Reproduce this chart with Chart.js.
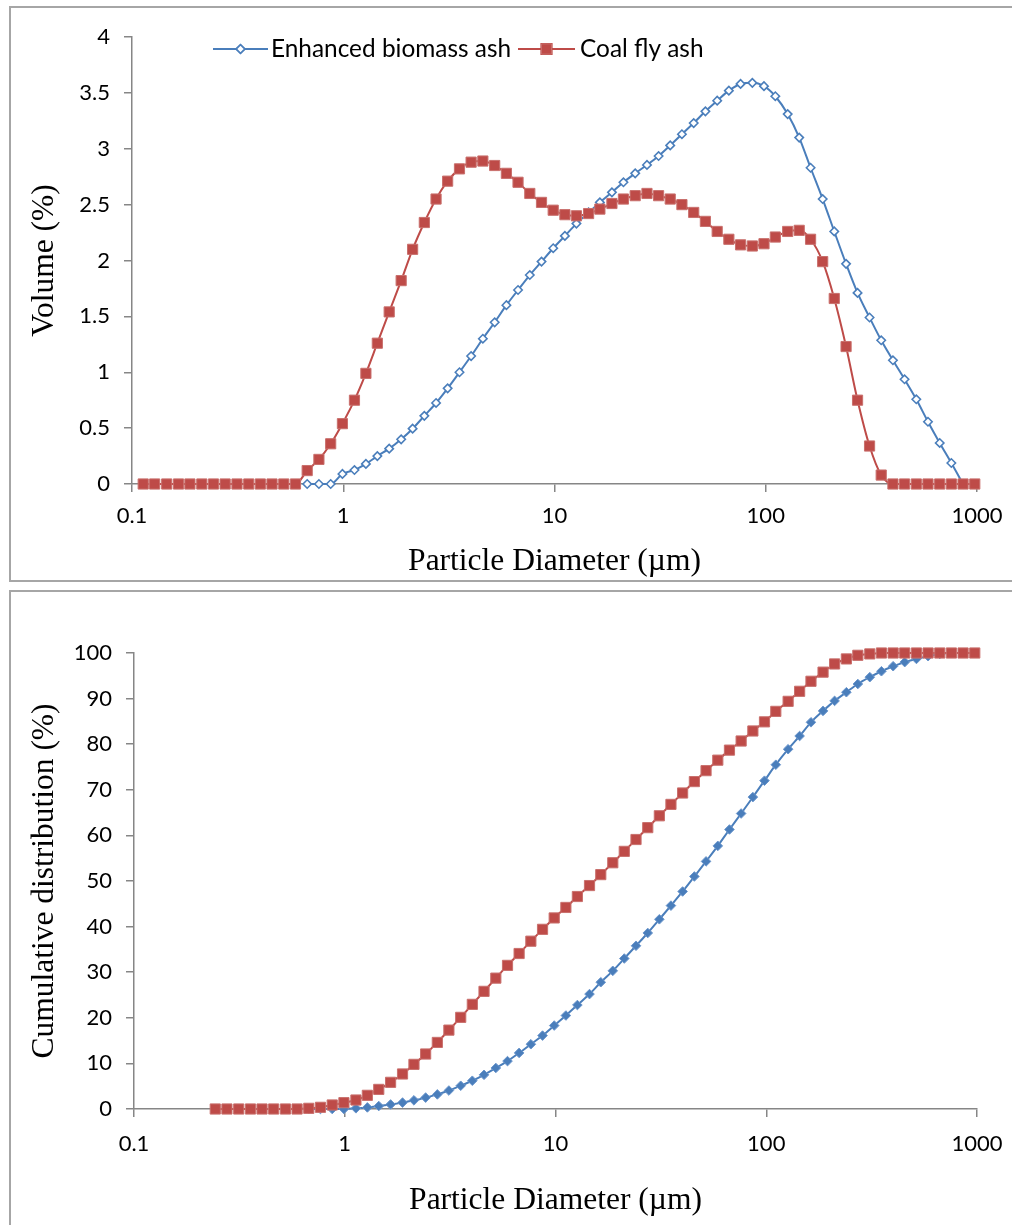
<!DOCTYPE html>
<html>
<head>
<meta charset="utf-8">
<script src="https://cdn.jsdelivr.net/npm/chart.js@4.4.1/dist/chart.umd.min.js"></script>
<style>
  html, body { margin: 0; padding: 0; background: #fff; }
  body { width: 1012px; height: 1225px; position: relative; overflow: hidden; }
  .panel { position: absolute; border: 2px solid #a6a6a6; box-sizing: border-box; }
  #p1 { left: 9px; top: 6px; width: 1030px; height: 576px; }
  #p2 { left: 9px; top: 590px; width: 1030px; height: 660px; }
  canvas { position: absolute; left: 0; }
  #volChart { top: 0; }
  #cumChart { top: 585px; }
</style>
</head>
<body>
<div class="panel" id="p1"></div>
<div class="panel" id="p2"></div>
<canvas id="volChart" width="1012" height="585"></canvas>
<canvas id="cumChart" width="1012" height="640"></canvas>
<script>
// particle size classes (um)
const sizes = [0.113, 0.128, 0.146, 0.166, 0.188, 0.214, 0.243, 0.276, 0.314, 0.357, 0.405, 0.46, 0.523, 0.594,
  0.675, 0.767, 0.872, 0.991, 1.13, 1.28, 1.45, 1.65, 1.88, 2.13, 2.42, 2.75, 3.12, 3.55, 4.03, 4.58, 5.21, 5.92,
  6.72, 7.64, 8.68, 9.86, 11.2, 12.7, 14.5, 16.4, 18.7, 21.2, 24.1, 27.4, 31.1, 35.3, 40.1, 45.6, 51.8, 58.9,
  66.9, 76, 86.4, 98.1, 111, 127, 144, 163, 186, 211, 240, 272, 310, 352, 400, 454, 516, 586, 666, 756, 859, 976];

// volume (%)
const biomassVol = [null, null, null, null, null, null, null, null, null, null, null, null, null, null,
  0, 0, 0, 0.09, 0.125, 0.18, 0.25, 0.316, 0.40, 0.495, 0.61, 0.725, 0.856, 1.00, 1.145, 1.30, 1.447, 1.60,
  1.736, 1.87, 1.99, 2.11, 2.22, 2.33, 2.43, 2.52, 2.61, 2.70, 2.78, 2.855, 2.935, 3.03, 3.13, 3.23, 3.335, 3.43,
  3.52, 3.58, 3.59, 3.56, 3.47, 3.31, 3.10, 2.83, 2.55, 2.26, 1.97, 1.71, 1.49, 1.286, 1.107, 0.937, 0.758, 0.557,
  0.367, 0.188, 0, null];
const coalVol = [0, 0, 0, 0, 0, 0, 0, 0, 0, 0, 0, 0, 0, 0,
  0.12, 0.22, 0.36, 0.54, 0.75, 0.99, 1.26, 1.54, 1.82, 2.10, 2.34, 2.55, 2.71, 2.82, 2.88, 2.89, 2.85, 2.78,
  2.70, 2.60, 2.52, 2.45, 2.41, 2.40, 2.42, 2.46, 2.51, 2.55, 2.58, 2.60, 2.58, 2.55, 2.50, 2.43, 2.35, 2.26,
  2.19, 2.14, 2.13, 2.15, 2.21, 2.26, 2.27, 2.19, 1.99, 1.66, 1.23, 0.75, 0.34, 0.08, 0, 0, 0, 0, 0, 0, 0, 0];

// cumulative distribution (%)
const biomassCum = [null, null, null, null, null, null, null, null, null, null, null, null, null, null,
  0, 0, 0, 0, 0.15, 0.35, 0.65, 1.0, 1.4, 1.9, 2.5, 3.2, 4.05, 5.1, 6.2, 7.5, 9.0, 10.5,
  12.3, 14.2, 16.1, 18.3, 20.5, 22.8, 25.2, 27.8, 30.3, 33.0, 35.8, 38.6, 41.6, 44.6, 47.7, 51.0, 54.3, 57.7,
  61.3, 64.8, 68.4, 72.0, 75.5, 78.9, 81.8, 84.8, 87.3, 89.5, 91.4, 93.2, 94.7, 96.0, 97.1, 98.0, 98.7, 99.3,
  99.8, 100, 100, null];
const coalCum = [null, null, null, null, null, null, 0, 0, 0, 0, 0, 0, 0, 0,
  0.15, 0.37, 0.88, 1.39, 1.97, 3.0, 4.3, 5.85, 7.68, 9.79, 12.06, 14.6, 17.3, 20.1, 22.95, 25.8, 28.7, 31.5,
  34.1, 36.8, 39.4, 41.9, 44.2, 46.6, 49.0, 51.4, 54.0, 56.5, 59.1, 61.7, 64.3, 66.8, 69.3, 71.8, 74.2, 76.5,
  78.7, 80.7, 82.9, 84.9, 87.2, 89.4, 91.6, 93.8, 95.8, 97.6, 98.7, 99.5, 99.8, 100, 100, 100, 100, 100,
  100, 100, 100, 100];

const xTicks = [0.1, 1, 10, 100, 1000];
const seriesNames = ['Enhanced biomass ash', 'Coal fly ash'];

const BLUE = '#4a7ebb';
const RED = '#be4b48';
const AXIS = '#868686';
const tickFont = { family: 'Lato', size: 22 };
const titleFont = { family: 'Liberation Serif', size: 31.5 };

function pts(vals) {
  return sizes.map((s, i) => ({ x: s, y: vals[i] }));
}

function xScale(height, tickPad, titlePad) {
  return {
    type: 'logarithmic',
    min: 0.1,
    max: 1000,
    afterBuildTicks: s => { s.ticks = xTicks.map(v => ({ value: v })); },
    afterFit: s => {
      s.height = height;
      // keep the end labels from pushing the plot area in
      s.paddingLeft = 0;
      s.paddingRight = 0;
    },
    ticks: { callback: v => String(v), font: tickFont, color: '#000', padding: tickPad, maxRotation: 0, autoSkip: false },
    grid: { drawOnChartArea: false, tickLength: 8, color: AXIS, lineWidth: 1.5 },
    border: { color: AXIS, width: 1.5 },
    title: { display: true, text: 'Particle Diameter (µm)', font: titleFont, color: '#000', padding: { top: 0, bottom: titlePad } }
  };
}

function yScale(width, max, step, label) {
  return {
    min: 0,
    max: max,
    afterFit: s => { s.width = width; },
    ticks: { stepSize: step, callback: v => String(v), font: tickFont, color: '#000', padding: 14 },
    grid: { drawOnChartArea: false, tickLength: 8, color: AXIS, lineWidth: 1.5 },
    border: { color: AXIS, width: 1.5 },
    title: { display: true, text: label, font: titleFont, color: '#000', padding: { top: 26, bottom: 0 } }
  };
}

// legend drawn inside the plot area, like the spreadsheet one
const insideLegend = {
  id: 'insideLegend',
  afterDraw(chart) {
    const ctx = chart.ctx;
    const y = 49;
    const items = [
      { x0: 213, x1: 268, tx: 271, color: BLUE, ds: chart.data.datasets[0] },
      { x0: 518, x1: 575, tx: 580, color: RED, ds: chart.data.datasets[1] }
    ];
    ctx.save();
    items.forEach((it, i) => {
      ctx.strokeStyle = it.color;
      ctx.lineWidth = 2;
      ctx.beginPath();
      ctx.moveTo(it.x0, y);
      ctx.lineTo(it.x1, y);
      ctx.stroke();
      Chart.helpers.drawPoint(ctx, {
        pointStyle: it.ds.pointStyle,
        radius: it.ds.pointRadius,
        borderWidth: it.ds.pointBorderWidth
      }, (it.x0 + it.x1) / 2, y);
      ctx.fillStyle = it.ds.pointBackgroundColor;
      ctx.strokeStyle = it.ds.pointBorderColor;
      ctx.lineWidth = it.ds.pointBorderWidth;
      ctx.fill();
      ctx.stroke();
      ctx.fillStyle = '#000';
      ctx.font = '24.4px Lato';
      ctx.textBaseline = 'middle';
      ctx.fillText(seriesNames[i], it.tx, y);
    });
    ctx.restore();
  }
};

new Chart(document.getElementById('volChart'), {
  type: 'line',
  data: {
    datasets: [
      {
        label: seriesNames[0], data: pts(biomassVol), clip: false, order: 1,
        borderColor: BLUE, borderWidth: 2, cubicInterpolationMode: 'monotone',
        pointStyle: 'rectRot', pointRadius: 4.2, pointBorderWidth: 1.6,
        pointBackgroundColor: '#fff', pointBorderColor: BLUE
      },
      {
        label: seriesNames[1], data: pts(coalVol), clip: false, order: 0,
        borderColor: RED, borderWidth: 2, cubicInterpolationMode: 'monotone',
        pointStyle: 'rect', pointRadius: 7.2, pointBorderWidth: 1,
        pointBackgroundColor: RED, pointBorderColor: '#c9706d'
      }
    ]
  },
  options: {
    responsive: false,
    animation: false,
    layout: { padding: { left: 0, right: 35, top: 37, bottom: 0 } },
    plugins: { legend: { display: false }, tooltip: { enabled: false } },
    scales: { x: xScale(101, 11, 4), y: yScale(132, 4, 0.5, 'Volume (%)') }
  },
  plugins: [insideLegend]
});

new Chart(document.getElementById('cumChart'), {
  type: 'line',
  data: {
    datasets: [
      {
        label: seriesNames[0], data: pts(biomassCum), clip: false, order: 1,
        borderColor: BLUE, borderWidth: 2, cubicInterpolationMode: 'monotone',
        pointStyle: 'rectRot', pointRadius: 4.8, pointBorderWidth: 1,
        pointBackgroundColor: BLUE, pointBorderColor: '#6b96cc'
      },
      {
        label: seriesNames[1], data: pts(coalCum), clip: false, order: 0,
        borderColor: RED, borderWidth: 2, cubicInterpolationMode: 'monotone',
        pointStyle: 'rect', pointRadius: 7.2, pointBorderWidth: 1,
        pointBackgroundColor: RED, pointBorderColor: '#c9706d'
      }
    ]
  },
  options: {
    responsive: false,
    animation: false,
    layout: { padding: { left: 0, right: 35, top: 68, bottom: 0 } },
    plugins: { legend: { display: false }, tooltip: { enabled: false } },
    scales: { x: xScale(116, 14, 5), y: yScale(134, 100, 10, 'Cumulative distribution (%)') }
  }
});
</script>
</body>
</html>
